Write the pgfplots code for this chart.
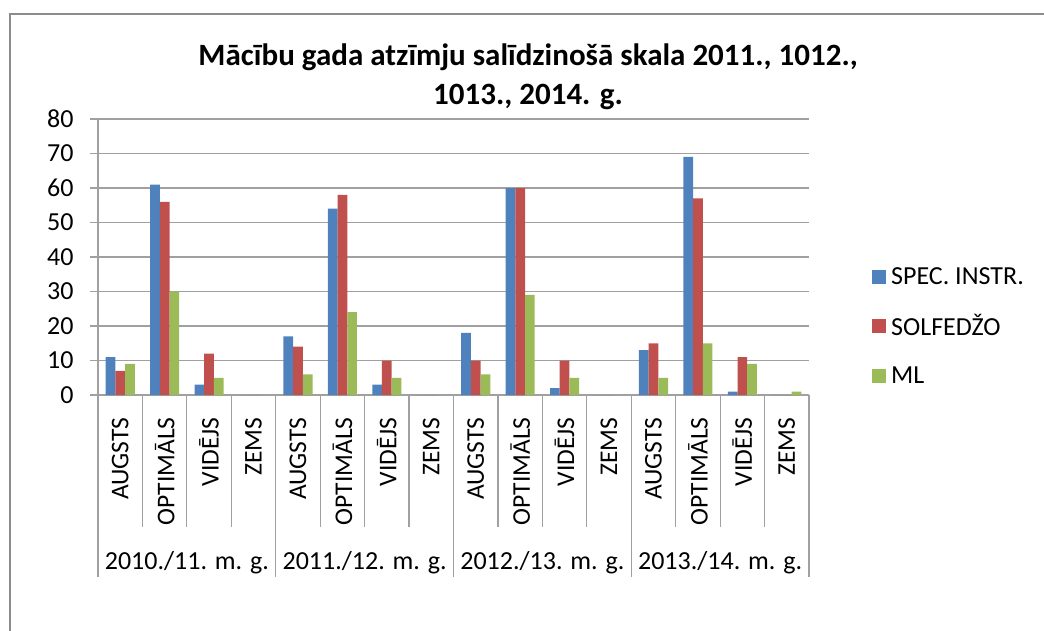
\documentclass[border=0pt]{standalone}
\usepackage{fontspec}
\setmainfont{Carlito}
\usepackage{pgfplots}
\usepackage{pgfplotstable}
\pgfplotsset{compat=1.18}
\definecolor{specblue}{HTML}{4F81BD}
\definecolor{solfred}{HTML}{C0504D}
\definecolor{mlgreen}{HTML}{9BBB59}
\definecolor{gridgray}{HTML}{A0A0A0}
\definecolor{framegray}{HTML}{8C8C8C}

% x = category index (4 levels x 4 school years)
\pgfplotstableread{
x  spec solf ml
0  11   7    9
1  61   56   30
2  3    12   5
3  0    0    0
4  17   14   6
5  54   58   24
6  3    10   5
7  0    0    0
8  18   10   6
9  60   60   29
10 2    10   5
11 0    0    0
12 13   15   5
13 69   57   15
14 1    11   9
15 0    0    1
}\grades

\begin{document}
\begin{tikzpicture}
\useasboundingbox (0pt,0pt) rectangle (1044pt,630pt);
\draw[framegray, line width=1.5pt] (10pt,-2pt) -- (10pt,616pt) -- (1046pt,616pt);
\node[font=\fontsize{31}{39}\selectfont\bfseries, align=center] at (528pt,553pt)
  {Mācību gada atzīmju salīdzinošā skala 2011., 1012.,\\1013., 2014. g.};
\begin{axis}[
  at={(98pt,235pt)}, anchor=south west,
  width=711pt, height=276pt, scale only axis,
  xmin=-0.5, xmax=15.5,
  ymin=0, ymax=80,
  ytick={0,10,...,80},
  xtick={0,...,15},
  xticklabels={AUGSTS,OPTIMĀLS,VIDĒJS,ZEMS,AUGSTS,OPTIMĀLS,VIDĒJS,ZEMS,
    AUGSTS,OPTIMĀLS,VIDĒJS,ZEMS,AUGSTS,OPTIMĀLS,VIDĒJS,ZEMS},
  axis x line*=bottom, axis y line*=left,
  axis line style={gridgray, line width=1.2pt},
  ymajorgrids, grid style={gridgray, line width=1.2pt},
  tick align=outside, major tick length=8pt,
  xtick style={draw=none},
  ytick style={gridgray, line width=1.2pt},
  ticklabel style={font=\fontsize{26}{26}\selectfont},
  yticklabel style={xshift=-13pt},
  /pgf/number format/assume math mode=true,
  xticklabel style={rotate=90, anchor=east, font=\fontsize{25.5}{26}\selectfont},
  xticklabel shift=11pt,
  ybar=0pt, bar width=9.7pt,
  clip=false,
  legend style={at={(rel axis cs:1,0.25)}, anchor=west, xshift=63pt,
    draw=none, fill=none, font=\fontsize{26}{26}\selectfont,
    row sep=27pt, inner sep=0pt,
    nodes={inner sep=1pt}},
  legend cell align=left,
]
\addplot[fill=specblue, draw=none,
  legend image code/.code={\fill[specblue] (0pt,-7pt) rectangle (14pt,7pt);}]
  table[x=x, y=spec] {\grades};
\addlegendentry{\hspace{4pt}SPEC. INSTR.}
\addplot[fill=solfred, draw=none,
  legend image code/.code={\fill[solfred] (0pt,-7pt) rectangle (14pt,7pt);}]
  table[x=x, y=solf] {\grades};
\addlegendentry{\hspace{4pt}SOLFEDŽO}
\addplot[fill=mlgreen, draw=none,
  legend image code/.code={\fill[mlgreen] (0pt,-7pt) rectangle (14pt,7pt);}]
  table[x=x, y=ml] {\grades};
\addlegendentry{\hspace{4pt}ML}
% separators of the two-level category axis
\pgfplotsinvokeforeach{0.5,1.5,2.5,4.5,5.5,6.5,8.5,9.5,10.5,12.5,13.5,14.5}{
  \draw[gridgray, line width=1.2pt] (axis cs:#1,0) -- ++(0pt,-132pt);}
\pgfplotsinvokeforeach{-0.5,3.5,7.5,11.5,15.5}{
  \draw[gridgray, line width=1.2pt] (axis cs:#1,0) -- ++(0pt,-182pt);}
\node[font=\fontsize{26}{26}\selectfont] at (axis cs:1.5,0) [yshift=-168pt] {2010./11. m. g.};
\node[font=\fontsize{26}{26}\selectfont] at (axis cs:5.5,0) [yshift=-168pt] {2011./12. m. g.};
\node[font=\fontsize{26}{26}\selectfont] at (axis cs:9.5,0) [yshift=-168pt] {2012./13. m. g.};
\node[font=\fontsize{26}{26}\selectfont] at (axis cs:13.5,0) [yshift=-168pt] {2013./14. m. g.};
\end{axis}
\end{tikzpicture}
\end{document}
